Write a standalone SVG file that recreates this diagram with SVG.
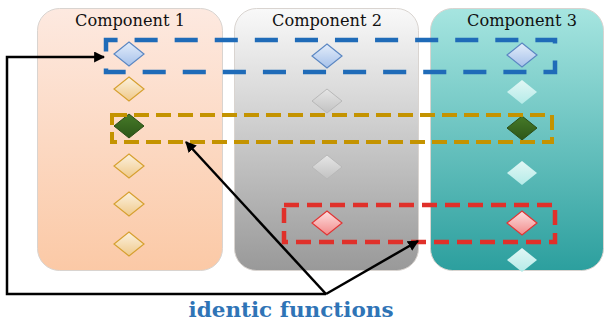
<svg xmlns="http://www.w3.org/2000/svg" width="605" height="324" viewBox="0 0 605 324">
<defs>
<linearGradient id="g1" x1="0" y1="0" x2="0" y2="1"><stop offset="0" stop-color="#fde9e0"/><stop offset="1" stop-color="#fbc9a6"/></linearGradient>
<linearGradient id="g2" x1="0" y1="0" x2="0" y2="1"><stop offset="0" stop-color="#f9f9f9"/><stop offset="1" stop-color="#999999"/></linearGradient>
<linearGradient id="g3" x1="0" y1="0" x2="0" y2="1"><stop offset="0" stop-color="#a6e5e0"/><stop offset="1" stop-color="#2c9f9e"/></linearGradient>
<linearGradient id="dBlue" x1="0" y1="0" x2="0" y2="1"><stop offset="0" stop-color="#e3edfa"/><stop offset="1" stop-color="#a6c1ea"/></linearGradient>
<linearGradient id="dGold" x1="0" y1="0" x2="0" y2="1"><stop offset="0" stop-color="#fcf1de"/><stop offset="1" stop-color="#efc98a"/></linearGradient>
<linearGradient id="dGreen" x1="0" y1="0" x2="0" y2="1"><stop offset="0" stop-color="#467a28"/><stop offset="1" stop-color="#2d5618"/></linearGradient>
<linearGradient id="dGray" x1="0" y1="0" x2="0" y2="1"><stop offset="0" stop-color="#e6e6e6"/><stop offset="1" stop-color="#c2c2c2"/></linearGradient>
<linearGradient id="dTeal" x1="0" y1="0" x2="0" y2="1"><stop offset="0" stop-color="#e2f7f5"/><stop offset="1" stop-color="#b5ebe8"/></linearGradient>
<linearGradient id="dRed" x1="0" y1="0" x2="0" y2="1"><stop offset="0" stop-color="#fde0e0"/><stop offset="1" stop-color="#f28a8a"/></linearGradient>
<path id="dia" d="M0,-12 L15,0 L0,12 L-15,0 Z"/>
<marker id="ah" viewBox="0 0 10 10" refX="9" refY="5" markerWidth="4.4" markerHeight="4.4" orient="auto" markerUnits="strokeWidth">
<path d="M0,0 L10,5 L0,10 Z" fill="#000"/>
</marker>
</defs>
<style>
.panel{stroke:#d9d4d0;stroke-width:1}
.lbl{font-family:"DejaVu Serif","Liberation Serif",serif;font-size:16px;fill:#111;text-anchor:middle}
.blue{fill:url(#dBlue);stroke:#5b87c2;stroke-width:1.2}
.gold{fill:url(#dGold);stroke:#d6a030;stroke-width:1.2}
.green{fill:url(#dGreen);stroke:#2a4d16;stroke-width:1}
.gray{fill:url(#dGray);stroke:#b8b8b8;stroke-width:1}
.teal{fill:url(#dTeal);stroke:none}
.red{fill:url(#dRed);stroke:#e03535;stroke-width:1.2}
.frame{fill:none}
.conn{fill:none;stroke:#000;stroke-width:2.5;stroke-linejoin:miter}
.title{font-family:"DejaVu Serif","Liberation Serif",serif;font-weight:bold;font-size:21px;fill:#2f74b6;text-anchor:middle}
</style>
<g id="component1">
<rect class="panel" x="37.5" y="8.5" width="185" height="262" rx="22" fill="url(#g1)"/>
<text class="lbl" x="130" y="26" textLength="110" lengthAdjust="spacingAndGlyphs">Component 1</text>
<use href="#dia" class="blue" x="129" y="54"/>
<use href="#dia" class="gold" x="129" y="89"/>
<use href="#dia" class="green" x="129" y="126"/>
<use href="#dia" class="gold" x="129" y="166"/>
<use href="#dia" class="gold" x="129" y="204"/>
<use href="#dia" class="gold" x="129" y="244"/>
</g>
<g id="component2">
<rect class="panel" x="234.5" y="8.5" width="184" height="262" rx="22" fill="url(#g2)"/>
<text class="lbl" x="327" y="26" textLength="110" lengthAdjust="spacingAndGlyphs">Component 2</text>
<use href="#dia" class="blue" x="327" y="56"/>
<use href="#dia" class="gray" x="327" y="101"/>
<use href="#dia" class="gray" x="327" y="167"/>
<use href="#dia" class="red" x="327" y="223"/>
</g>
<g id="component3">
<rect class="panel" x="430.5" y="8.5" width="173" height="262" rx="22" fill="url(#g3)"/>
<text class="lbl" x="522" y="26" textLength="110" lengthAdjust="spacingAndGlyphs">Component 3</text>
<use href="#dia" class="blue" x="522" y="55"/>
<use href="#dia" class="teal" x="522" y="92"/>
<use href="#dia" class="green" x="522" y="128"/>
<use href="#dia" class="teal" x="522" y="173"/>
<use href="#dia" class="red" x="522" y="223"/>
<use href="#dia" class="teal" x="522" y="260"/>
</g>
<g id="frames">
<path class="frame" d="M106,40 H555 V72 H106 Z" stroke="#1f6bb8" stroke-width="4.5" stroke-dasharray="23.08 17" stroke-dashoffset="11.5"/>
<rect class="frame" x="112" y="115" width="440" height="27" stroke="#c49300" stroke-width="4" stroke-dasharray="15 7"/>
<rect class="frame" x="284" y="205" width="271" height="37" stroke="#e0302a" stroke-width="4.5" stroke-dasharray="15 8"/>
</g>
<g id="connectors">
<polyline class="conn" points="326,294 7,294 7,57 104,57" marker-end="url(#ah)"/>
<line class="conn" x1="326" y1="294" x2="186" y2="142" marker-end="url(#ah)"/>
<line class="conn" x1="326" y1="294" x2="418" y2="241" marker-end="url(#ah)"/>
</g>
<g id="caption">
<text class="title" x="291" y="317" textLength="205" lengthAdjust="spacingAndGlyphs">identic functions</text>
</g>
</svg>
